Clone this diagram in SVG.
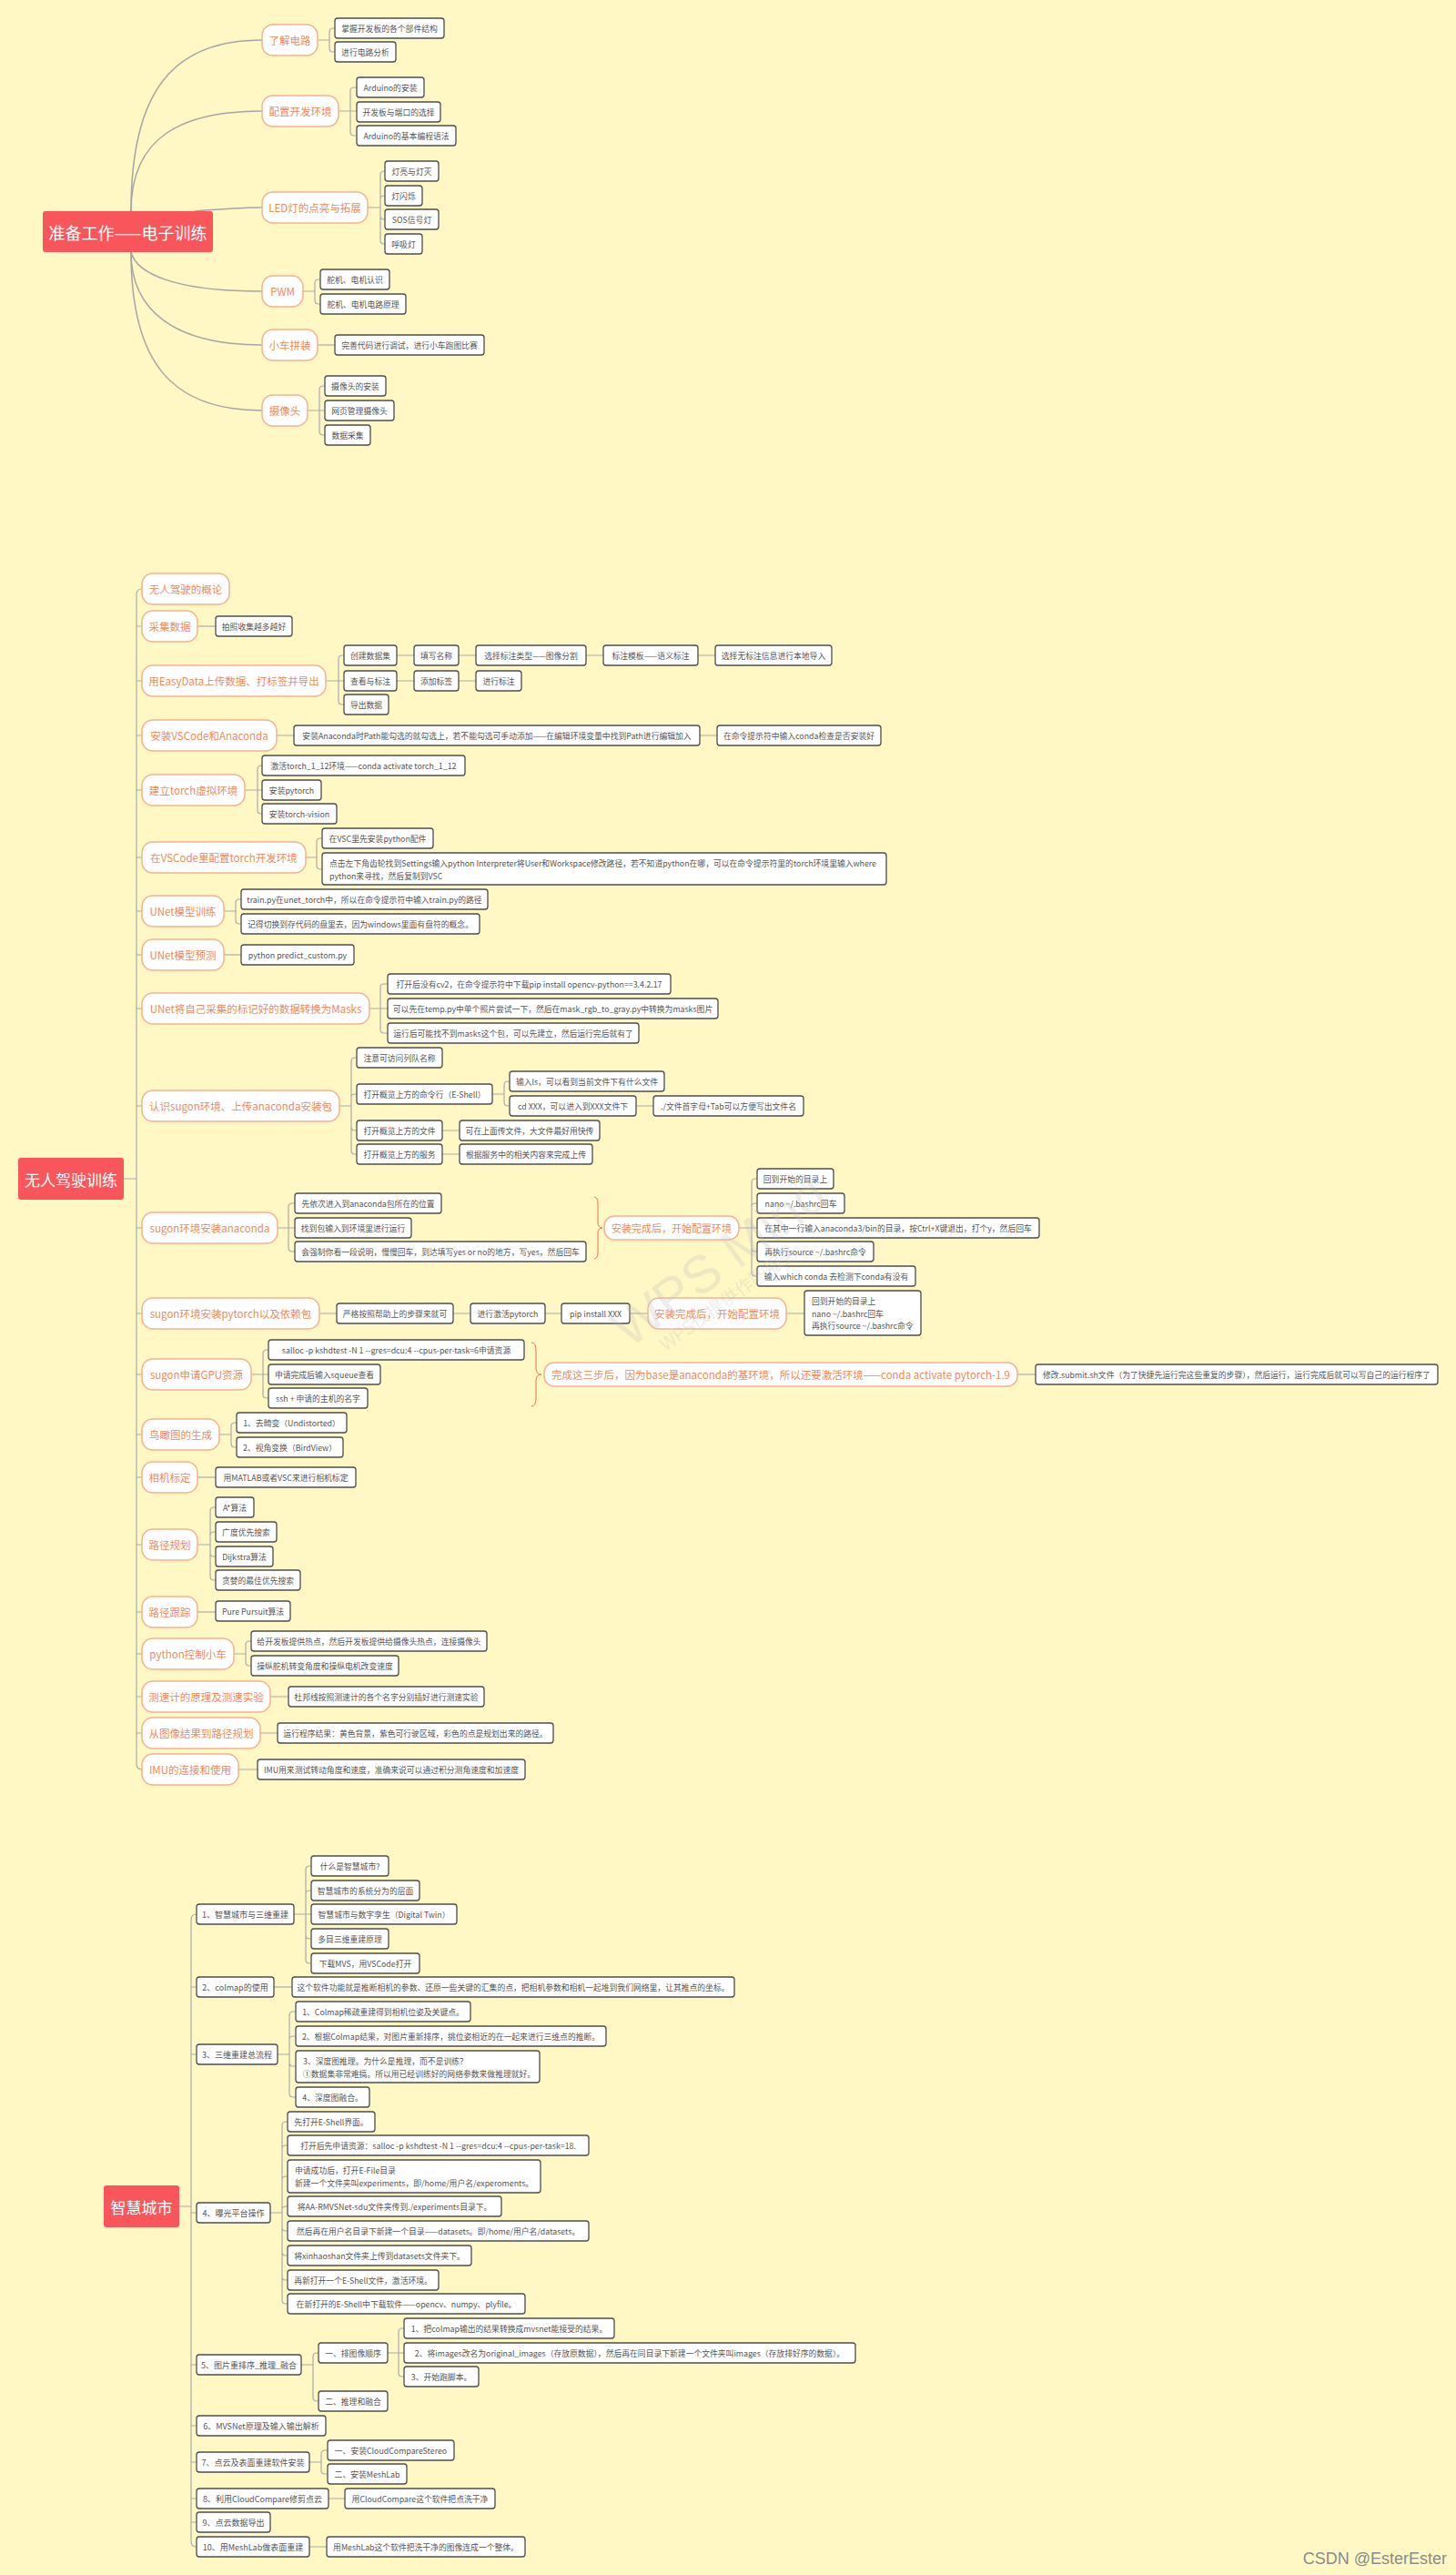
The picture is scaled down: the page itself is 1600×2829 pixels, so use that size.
<svg xmlns="http://www.w3.org/2000/svg" width="1600" height="2829" viewBox="0 0 1600 2829">
<style>
text{font-family:"Noto Sans CJK SC","Noto Sans",sans-serif;dominant-baseline:central}
.bg{fill:#fff8c4}
.root rect{fill:#f9565b}
.root text{fill:#fff;font-size:17px;text-anchor:middle}
.o rect{fill:#fff;stroke:#f4b28f;stroke-width:1.5}
.o text{fill:#ef8a5c;font-size:11.5px;text-anchor:middle}
.b rect{fill:#fff;stroke:#4d4d4d;stroke-width:1.3}
.b text{fill:#555;font-size:8.8px;text-anchor:middle}
.b text.l{text-anchor:start}
.c path{fill:none;stroke:#aaa;stroke-width:1.2}
.c path.cv{stroke-width:1.5;stroke:#a5a5a5}
.c path.br{stroke:#e8774f;stroke-width:1}
.wm{fill:#bbb;opacity:.25;font-family:"Liberation Sans",sans-serif}
</style>
<rect class="bg" x="0" y="0" width="1600" height="2829"/>

<g id="connectors" class="c">
<!-- section 1 -->
<path class="cv" d="M144,232 C144,100 190,44 288,44"/>
<path class="cv" d="M144,232 C144,150 200,122 288,122"/>
<path class="cv" d="M214,232 C240,230 260,228 288,228"/>
<path class="cv" d="M144,277 C150,300 190,320 288,320"/>
<path class="cv" d="M144,277 C144,340 190,379 288,379"/>
<path class="cv" d="M144,277 C144,400 190,451 288,451"/>
<path d="M349,44 H362 M362,44 V35 Q362,31 366,31 H368 M362,44 V53 Q362,57 366,57 H368"/>
<path d="M372,122 H392 M385,122 V100 Q385,96 389,96 H392 M385,122 V145 Q385,149 389,149 H392"/>
<path d="M404,228 H418 M418,228 V192 Q418,188 422,188 H423 M418,228 V219 Q418,215 422,215 H423 M418,228 V237 Q418,241 422,241 H423 M418,228 V264 Q418,268 422,268 H423"/>
<path d="M333,320 H346 M346,320 V311 Q346,307 350,307 H352 M346,320 V330 Q346,334 350,334 H352"/>
<path d="M349,379 H368"/>
<path d="M338,451 H357 M351,451 V428 Q351,424 355,424 H357 M351,451 V474 Q351,478 355,478 H357"/>
<!-- section 2 trunk -->
<path d="M136,1295 H150 M156,647 Q150,647 150,653 V1938 Q150,1944 156,1944 M150,688 H156 M150,748 H156 M150,808 H156 M150,868 H156 M150,942 H156 M150,1001 H156 M150,1049 H156 M150,1108 H156 M150,1215 H156 M150,1349 H156 M150,1443 H156 M150,1510 H156 M150,1576 H156 M150,1623 H156 M150,1697 H156 M150,1771 H156 M150,1817 H156 M150,1864 H156 M150,1904 H156"/>
<path d="M217,688 H237"/>
<path d="M358,748 H378 M372,748 V724 Q372,720 376,720 H378 M372,748 V770 Q372,774 376,774 H378"/>
<path d="M436,720 H455 M504,720 H523 M644,720 H663 M767,720 H786 M436,748 H455 M504,748 H523"/>
<path d="M304,808 H323 M769,808 H788"/>
<path d="M269,868 H288 M283,868 V845 Q283,841 287,841 H288 M283,868 V890 Q283,894 287,894 H288"/>
<path d="M336,942 H348 M348,942 V925 Q348,921 352,921 H354 M348,942 V951 Q348,955 352,955 H354"/>
<path d="M246,1001 H259 M259,1001 V992 Q259,988 263,988 H265 M259,1001 V1011 Q259,1015 263,1015 H265"/>
<path d="M246,1049 H265"/>
<path d="M406,1108 H426 M418,1108 V1085 Q418,1081 422,1081 H426 M418,1108 V1131 Q418,1135 422,1135 H426"/>
<path d="M373,1215 H386 M386,1215 V1166 Q386,1162 390,1162 H392 M386,1215 V1206 Q386,1202 390,1202 H392 M386,1215 V1238 Q386,1242 390,1242 H392 M386,1215 V1264 Q386,1268 390,1268 H392"/>
<path d="M541,1202 H554 M554,1202 V1192 Q554,1188 558,1188 H560 M554,1202 V1211 Q554,1215 558,1215 H560 M699,1215 H718 M486,1242 H505 M486,1268 H505"/>
<path d="M305,1349 H324 M317,1349 V1326 Q317,1322 321,1322 H324 M317,1349 V1371 Q317,1375 321,1375 H324"/>
<path class="br" d="M653,1315 Q657,1315 657,1323 V1343 Q657,1349 662,1349 Q657,1349 657,1355 V1375 Q657,1383 653,1383"/>
<path d="M812,1349 H832 M826,1349 V1299 Q826,1295 830,1295 H832 M826,1349 V1326 Q826,1322 830,1322 H832 M826,1349 V1371 Q826,1375 830,1375 H832 M826,1349 V1398 Q826,1402 830,1402 H832"/>
<path d="M351,1443 H370 M498,1443 H517 M599,1443 H617 M692,1443 H712 M864,1443 H884"/>
<path d="M276,1510 H295 M289,1510 V1487 Q289,1483 293,1483 H295 M289,1510 V1532 Q289,1536 293,1536 H295"/>
<path class="br" d="M584,1475 Q589,1475 589,1484 V1503 Q589,1510 595,1510 Q589,1510 589,1517 V1536 Q589,1545 584,1545"/>
<path d="M1118,1510 H1138"/>
<path d="M241,1576 H254 M254,1576 V1567 Q254,1563 258,1563 H260 M254,1576 V1586 Q254,1590 258,1590 H260"/>
<path d="M217,1623 H237"/>
<path d="M217,1697 H231 M231,1697 V1660 Q231,1656 235,1656 H237 M231,1697 V1687 Q231,1683 235,1683 H237 M231,1697 V1706 Q231,1710 235,1710 H237 M231,1697 V1732 Q231,1736 235,1736 H237"/>
<path d="M217,1771 H237"/>
<path d="M257,1817 H270 M270,1817 V1807 Q270,1803 274,1803 H276 M270,1817 V1826 Q270,1830 274,1830 H276"/>
<path d="M297,1864 H317 M286,1904 H305 M262,1944 H283"/>
<!-- section 3 -->
<path d="M197,2424 H210 M216,2103 Q210,2103 210,2109 V2792 Q210,2798 216,2798 M210,2183 H216 M210,2257 H216 M210,2431 H216 M210,2598 H216 M210,2665 H216 M210,2705 H216 M210,2745 H216 M210,2771 H216"/>
<path d="M323,2103 H342 M336,2103 V2054 Q336,2050 340,2050 H342 M336,2103 V2081 Q336,2077 340,2077 H342 M336,2103 V2126 Q336,2130 340,2130 H342 M336,2103 V2153 Q336,2157 340,2157 H342"/>
<path d="M301,2183 H321"/>
<path d="M305,2257 H318 M318,2257 V2214 Q318,2210 322,2210 H325 M318,2257 V2241 Q318,2237 322,2237 H325 M318,2257 V2266 Q318,2270 322,2270 H325 M318,2257 V2300 Q318,2304 322,2304 H325"/>
<path d="M297,2431 H310 M310,2431 V2335 Q310,2331 314,2331 H316 M310,2431 V2361 Q310,2357 314,2357 H316 M310,2431 V2395 Q310,2391 314,2391 H316 M310,2431 V2428 Q310,2424 314,2424 H316 M310,2431 V2447 Q310,2451 314,2451 H316 M310,2431 V2474 Q310,2478 314,2478 H316 M310,2431 V2501 Q310,2505 314,2505 H316 M310,2431 V2527 Q310,2531 314,2531 H316"/>
<path d="M331,2598 H344 M344,2598 V2589 Q344,2585 348,2585 H350 M344,2598 V2634 Q344,2638 348,2638 H350"/>
<path d="M426,2585 H444 M438,2585 V2562 Q438,2558 442,2558 H444 M438,2585 V2607 Q438,2611 442,2611 H444"/>
<path d="M340,2705 H353 M353,2705 V2696 Q353,2692 357,2692 H360 M353,2705 V2714 Q353,2718 357,2718 H360"/>
<path d="M361,2745 H379 M340,2798 H359"/>
</g>

<!-- ============ SECTION 1 ============ -->
<g id="s1-root" class="root"><rect x="47" y="232" width="187" height="45" rx="3"/><text x="140.5" y="254.5" style="font-size:18px">准备工作——电子训练</text></g>
<g id="s1-a" class="o"><rect x="288" y="27" width="61" height="34" rx="12"/><text x="318.5" y="44">了解电路</text></g>
<g id="s1-b" class="o"><rect x="288" y="105" width="84" height="34" rx="12"/><text x="330" y="122">配置开发环境</text></g>
<g id="s1-c" class="o"><rect x="288" y="211" width="116" height="34" rx="12"/><text x="346" y="228">LED灯的点亮与拓展</text></g>
<g id="s1-d" class="o"><rect x="288" y="303" width="45" height="34" rx="12"/><text x="310.5" y="320">PWM</text></g>
<g id="s1-e" class="o"><rect x="288" y="362" width="61" height="34" rx="12"/><text x="318.5" y="379">小车拼装</text></g>
<g id="s1-f" class="o"><rect x="288" y="434" width="50" height="34" rx="12"/><text x="313" y="451">摄像头</text></g>

<g id="s1-a1" class="b"><rect x="368" y="20" width="120" height="22" rx="3"/><text x="428" y="31">掌握开发板的各个部件结构</text></g>
<g id="s1-a2" class="b"><rect x="368" y="46" width="67" height="22" rx="3"/><text x="401.5" y="57">进行电路分析</text></g>
<g id="s1-b1" class="b"><rect x="392" y="85" width="74" height="22" rx="3"/><text x="429" y="96">Arduino的安装</text></g>
<g id="s1-b2" class="b"><rect x="392" y="112" width="92" height="22" rx="3"/><text x="438" y="123">开发板与端口的选择</text></g>
<g id="s1-b3" class="b"><rect x="392" y="138" width="109" height="22" rx="3"/><text x="446.5" y="149">Arduino的基本编程语法</text></g>
<g id="s1-c1" class="b"><rect x="423" y="177" width="59" height="22" rx="3"/><text x="452.5" y="188">灯亮与灯灭</text></g>
<g id="s1-c2" class="b"><rect x="423" y="204" width="41" height="22" rx="3"/><text x="443.5" y="215">灯闪烁</text></g>
<g id="s1-c3" class="b"><rect x="423" y="230" width="59" height="22" rx="3"/><text x="452.5" y="241">SOS信号灯</text></g>
<g id="s1-c4" class="b"><rect x="423" y="257" width="41" height="22" rx="3"/><text x="443.5" y="268">呼吸灯</text></g>
<g id="s1-d1" class="b"><rect x="352" y="296" width="76" height="22" rx="3"/><text x="390" y="307">舵机、电机认识</text></g>
<g id="s1-d2" class="b"><rect x="352" y="323" width="94" height="22" rx="3"/><text x="399" y="334">舵机、电机电路原理</text></g>
<g id="s1-e1" class="b"><rect x="368" y="368" width="164" height="22" rx="3"/><text x="450" y="379">完善代码进行调试，进行小车跑图比赛</text></g>
<g id="s1-f1" class="b"><rect x="357" y="413" width="67" height="22" rx="3"/><text x="390.5" y="424">摄像头的安装</text></g>
<g id="s1-f2" class="b"><rect x="357" y="440" width="76" height="22" rx="3"/><text x="395" y="451">网页管理摄像头</text></g>
<g id="s1-f3" class="b"><rect x="357" y="467" width="50" height="22" rx="3"/><text x="382" y="478">数据采集</text></g>

<!-- ============ SECTION 2 ============ -->
<g id="s2-root" class="root"><rect x="20" y="1272" width="116" height="46" rx="3"/><text x="78" y="1295">无人驾驶训练</text></g>
<g id="s2-01" class="o"><rect x="156" y="630" width="96" height="34" rx="12"/><text x="204" y="647">无人驾驶的概论</text></g>
<g id="s2-02" class="o"><rect x="156" y="671" width="61" height="34" rx="12"/><text x="186.5" y="688">采集数据</text></g>
<g id="s2-03" class="o"><rect x="156" y="731" width="202" height="34" rx="12"/><text x="257" y="748">用EasyData上传数据、打标签并导出</text></g>
<g id="s2-04" class="o"><rect x="156" y="791" width="148" height="34" rx="12"/><text x="230" y="808">安装VSCode和Anaconda</text></g>
<g id="s2-05" class="o"><rect x="156" y="851" width="113" height="34" rx="12"/><text x="212.5" y="868">建立torch虚拟环境</text></g>
<g id="s2-06" class="o"><rect x="156" y="925" width="180" height="34" rx="12"/><text x="246" y="942">在VSCode里配置torch开发环境</text></g>
<g id="s2-07" class="o"><rect x="156" y="984" width="90" height="34" rx="12"/><text x="201" y="1001">UNet模型训练</text></g>
<g id="s2-08" class="o"><rect x="156" y="1032" width="90" height="34" rx="12"/><text x="201" y="1049">UNet模型预测</text></g>
<g id="s2-09" class="o"><rect x="156" y="1091" width="250" height="34" rx="12"/><text x="281" y="1108">UNet将自己采集的标记好的数据转换为Masks</text></g>
<g id="s2-10" class="o"><rect x="156" y="1198" width="217" height="34" rx="12"/><text x="264.5" y="1215">认识sugon环境、上传anaconda安装包</text></g>
<g id="s2-11" class="o"><rect x="156" y="1332" width="149" height="34" rx="12"/><text x="230.5" y="1349">sugon环境安装anaconda</text></g>
<g id="s2-12" class="o"><rect x="156" y="1426" width="195" height="34" rx="12"/><text x="253.5" y="1443">sugon环境安装pytorch以及依赖包</text></g>
<g id="s2-13" class="o"><rect x="156" y="1493" width="120" height="34" rx="12"/><text x="216" y="1510">sugon申请GPU资源</text></g>
<g id="s2-14" class="o"><rect x="156" y="1559" width="85" height="34" rx="12"/><text x="198.5" y="1576">鸟瞰图的生成</text></g>
<g id="s2-15" class="o"><rect x="156" y="1606" width="61" height="34" rx="12"/><text x="186.5" y="1623">相机标定</text></g>
<g id="s2-16" class="o"><rect x="156" y="1680" width="61" height="34" rx="12"/><text x="186.5" y="1697">路径规划</text></g>
<g id="s2-17" class="o"><rect x="156" y="1754" width="61" height="34" rx="12"/><text x="186.5" y="1771">路径跟踪</text></g>
<g id="s2-18" class="o"><rect x="156" y="1800" width="101" height="34" rx="12"/><text x="206.5" y="1817">python控制小车</text></g>
<g id="s2-19" class="o"><rect x="156" y="1847" width="141" height="34" rx="12"/><text x="226.5" y="1864">测速计的原理及测速实验</text></g>
<g id="s2-20" class="o"><rect x="156" y="1887" width="130" height="34" rx="12"/><text x="221" y="1904">从图像结果到路径规划</text></g>
<g id="s2-21" class="o"><rect x="156" y="1927" width="106" height="34" rx="12"/><text x="209" y="1944">IMU的连接和使用</text></g>

<g id="s2-sum1" class="o"><rect x="664" y="1336" width="148" height="26" rx="11"/><text x="738" y="1349" style="font-size:11px">安装完成后，开始配置环境</text></g>
<g id="s2-sum2" class="o"><rect x="712" y="1426" width="152" height="34" rx="12"/><text x="788" y="1443">安装完成后，开始配置环境</text></g>
<g id="s2-sum3" class="o"><rect x="598" y="1497" width="520" height="26" rx="11"/><text x="858" y="1510">完成这三步后，因为base是anaconda的基环境，所以还要激活环境——conda activate pytorch-1.9</text></g>

<g id="s2-02a" class="b"><rect x="237" y="677" width="84" height="22" rx="3"/><text x="279" y="688">拍照收集越多越好</text></g>
<g id="s2-03a" class="b"><rect x="378" y="709" width="58" height="22" rx="3"/><text x="407" y="720">创建数据集</text></g>
<g id="s2-03a1" class="b"><rect x="455" y="709" width="49" height="22" rx="3"/><text x="479.5" y="720">填写名称</text></g>
<g id="s2-03a2" class="b"><rect x="523" y="709" width="121" height="22" rx="3"/><text x="583.5" y="720">选择标注类型——图像分割</text></g>
<g id="s2-03a3" class="b"><rect x="663" y="709" width="104" height="22" rx="3"/><text x="715" y="720">标注模板——语义标注</text></g>
<g id="s2-03a4" class="b"><rect x="786" y="709" width="128" height="22" rx="3"/><text x="850" y="720">选择无标注信息进行本地导入</text></g>
<g id="s2-03b" class="b"><rect x="378" y="737" width="58" height="22" rx="3"/><text x="407" y="748">查看与标注</text></g>
<g id="s2-03b1" class="b"><rect x="455" y="737" width="49" height="22" rx="3"/><text x="479.5" y="748">添加标签</text></g>
<g id="s2-03b2" class="b"><rect x="523" y="737" width="50" height="22" rx="3"/><text x="548" y="748">进行标注</text></g>
<g id="s2-03c" class="b"><rect x="378" y="763" width="49" height="22" rx="3"/><text x="402.5" y="774">导出数据</text></g>
<g id="s2-04a" class="b"><rect x="323" y="797" width="446" height="22" rx="3"/><text x="546" y="808">安装Anaconda时Path能勾选的就勾选上，若不能勾选可手动添加——在编辑环境变量中找到Path进行编辑加入</text></g>
<g id="s2-04a1" class="b"><rect x="788" y="797" width="180" height="22" rx="3"/><text x="878" y="808">在命令提示符中输入conda检查是否安装好</text></g>
<g id="s2-05a" class="b"><rect x="288" y="830" width="223" height="22" rx="3"/><text x="399.5" y="841">激活torch_1_12环境——conda activate torch_1_12</text></g>
<g id="s2-05b" class="b"><rect x="288" y="857" width="65" height="22" rx="3"/><text x="320.5" y="868">安装pytorch</text></g>
<g id="s2-05c" class="b"><rect x="288" y="883" width="82" height="22" rx="3"/><text x="329" y="894">安装torch-vision</text></g>
<g id="s2-06a" class="b"><rect x="354" y="910" width="122" height="22" rx="3"/><text x="415" y="921">在VSC里先安装python配件</text></g>
<g id="s2-06b" class="b"><rect x="354" y="937" width="620" height="35" rx="3"/><text class="l" x="362" y="948">点击左下角齿轮找到Settings输入python Interpreter将User和Workspace修改路径，若不知道python在哪，可以在命令提示符里的torch环境里输入where</text><text class="l" x="362" y="962">python来寻找，然后复制到VSC</text></g>
<g id="s2-07a" class="b"><rect x="265" y="977" width="271" height="22" rx="3"/><text x="400.5" y="988">train.py在unet_torch中，所以在命令提示符中输入train.py的路径</text></g>
<g id="s2-07b" class="b"><rect x="265" y="1004" width="262" height="22" rx="3"/><text x="396" y="1015">记得切换到存代码的盘里去，因为windows里面有盘符的概念。</text></g>
<g id="s2-08a" class="b"><rect x="265" y="1038" width="124" height="22" rx="3"/><text x="327" y="1049">python predict_custom.py</text></g>
<g id="s2-09a" class="b"><rect x="426" y="1070" width="311" height="22" rx="3"/><text x="581.5" y="1081">打开后没有cv2，在命令提示符中下载pip install opencv-python==3.4.2.17</text></g>
<g id="s2-09b" class="b"><rect x="426" y="1097" width="363" height="22" rx="3"/><text x="607.5" y="1108">可以先在temp.py中单个照片尝试一下，然后在mask_rgb_to_gray.py中转换为masks图片</text></g>
<g id="s2-09c" class="b"><rect x="426" y="1124" width="276" height="22" rx="3"/><text x="564" y="1135">运行后可能找不到masks这个包，可以先建立，然后运行完后就有了</text></g>
<g id="s2-10a" class="b"><rect x="392" y="1151" width="94" height="22" rx="3"/><text x="439" y="1162">注意可访问列队名称</text></g>
<g id="s2-10b" class="b"><rect x="392" y="1191" width="149" height="22" rx="3"/><text x="466.5" y="1202">打开概览上方的命令行（E-Shell）</text></g>
<g id="s2-10b1" class="b"><rect x="560" y="1177" width="170" height="22" rx="3"/><text x="645" y="1188">输入ls，可以看到当前文件下有什么文件</text></g>
<g id="s2-10b2" class="b"><rect x="560" y="1204" width="139" height="22" rx="3"/><text x="629.5" y="1215">cd XXX，可以进入到XXX文件下</text></g>
<g id="s2-10b3" class="b"><rect x="718" y="1204" width="165" height="22" rx="3"/><text x="800.5" y="1215">./文件首字母+Tab可以方便写出文件名</text></g>
<g id="s2-10c" class="b"><rect x="392" y="1231" width="94" height="22" rx="3"/><text x="439" y="1242">打开概览上方的文件</text></g>
<g id="s2-10c1" class="b"><rect x="505" y="1231" width="154" height="22" rx="3"/><text x="582" y="1242">可在上面传文件，大文件最好用快传</text></g>
<g id="s2-10d" class="b"><rect x="392" y="1257" width="94" height="22" rx="3"/><text x="439" y="1268">打开概览上方的服务</text></g>
<g id="s2-10d1" class="b"><rect x="505" y="1257" width="146" height="22" rx="3"/><text x="578" y="1268">根据服务中的相关内容来完成上传</text></g>
<g id="s2-11a" class="b"><rect x="324" y="1311" width="161" height="22" rx="3"/><text x="404.5" y="1322">先依次进入到anaconda包所在的位置</text></g>
<g id="s2-11b" class="b"><rect x="324" y="1338" width="128" height="22" rx="3"/><text x="388" y="1349">找到包输入到环境里进行运行</text></g>
<g id="s2-11c" class="b"><rect x="324" y="1364" width="320" height="22" rx="3"/><text x="484" y="1375">会强制你看一段说明，慢慢回车，到达填写yes or no的地方，写yes，然后回车</text></g>
<g id="s2-11d" class="b"><rect x="832" y="1284" width="84" height="22" rx="3"/><text x="874" y="1295">回到开始的目录上</text></g>
<g id="s2-11e" class="b"><rect x="832" y="1311" width="96" height="22" rx="3"/><text x="880" y="1322">nano ~/.bashrc回车</text></g>
<g id="s2-11f" class="b"><rect x="832" y="1338" width="310" height="22" rx="3"/><text x="987" y="1349">在其中一行输入anaconda3/bin的目录，按Ctrl+X键退出，打个y，然后回车</text></g>
<g id="s2-11g" class="b"><rect x="832" y="1364" width="128" height="22" rx="3"/><text x="896" y="1375">再执行source ~/.bashrc命令</text></g>
<g id="s2-11h" class="b"><rect x="832" y="1391" width="174" height="22" rx="3"/><text x="919" y="1402">输入which conda 去检测下conda有没有</text></g>
<g id="s2-12a" class="b"><rect x="370" y="1432" width="128" height="22" rx="3"/><text x="434" y="1443">严格按照帮助上的步骤来就可</text></g>
<g id="s2-12b" class="b"><rect x="517" y="1432" width="82" height="22" rx="3"/><text x="558" y="1443">进行激活pytorch</text></g>
<g id="s2-12c" class="b"><rect x="617" y="1432" width="75" height="22" rx="3"/><text x="654.5" y="1443">pip install XXX</text></g>
<g id="s2-12d" class="b"><rect x="884" y="1418" width="128" height="49" rx="3"/><text class="l" x="892" y="1429">回到开始的目录上</text><text class="l" x="892" y="1443">nano ~/.bashrc回车</text><text class="l" x="892" y="1456">再执行source ~/.bashrc命令</text></g>
<g id="s2-13a" class="b"><rect x="295" y="1472" width="281" height="22" rx="3"/><text x="435.5" y="1483">salloc -p kshdtest -N 1 --gres=dcu:4 --cpus-per-task=6申请资源</text></g>
<g id="s2-13b" class="b"><rect x="295" y="1499" width="123" height="22" rx="3"/><text x="356.5" y="1510">申请完成后输入squeue查看</text></g>
<g id="s2-13c" class="b"><rect x="295" y="1525" width="109" height="22" rx="3"/><text x="349.5" y="1536">ssh + 申请的主机的名字</text></g>
<g id="s2-13d" class="b"><rect x="1138" y="1499" width="442" height="22" rx="3"/><text x="1359" y="1510">修改.submit.sh文件（为了快捷先运行完这些重复的步骤），然后运行，运行完成后就可以写自己的运行程序了</text></g>
<g id="s2-14a" class="b"><rect x="260" y="1552" width="121" height="22" rx="3"/><text x="320.5" y="1563">1、去畸变（Undistorted）</text></g>
<g id="s2-14b" class="b"><rect x="260" y="1579" width="117" height="22" rx="3"/><text x="318.5" y="1590">2、视角变换（BirdView）</text></g>
<g id="s2-15a" class="b"><rect x="237" y="1612" width="154" height="22" rx="3"/><text x="314" y="1623">用MATLAB或者VSC来进行相机标定</text></g>
<g id="s2-16a" class="b"><rect x="237" y="1645" width="42" height="22" rx="3"/><text x="258" y="1656">A*算法</text></g>
<g id="s2-16b" class="b"><rect x="237" y="1672" width="67" height="22" rx="3"/><text x="270.5" y="1683">广度优先搜索</text></g>
<g id="s2-16c" class="b"><rect x="237" y="1699" width="63" height="22" rx="3"/><text x="268.5" y="1710">Dijkstra算法</text></g>
<g id="s2-16d" class="b"><rect x="237" y="1725" width="93" height="22" rx="3"/><text x="283.5" y="1736">贪婪的最佳优先搜索</text></g>
<g id="s2-17a" class="b"><rect x="237" y="1759" width="82" height="22" rx="3"/><text x="278" y="1770">Pure Pursuit算法</text></g>
<g id="s2-18a" class="b"><rect x="276" y="1792" width="259" height="22" rx="3"/><text x="405.5" y="1803">给开发板提供热点，然后开发板提供给摄像头热点，连接摄像头</text></g>
<g id="s2-18b" class="b"><rect x="276" y="1819" width="162" height="22" rx="3"/><text x="357" y="1830">操纵舵机转变角度和操纵电机改变速度</text></g>
<g id="s2-19a" class="b"><rect x="317" y="1853" width="215" height="22" rx="3"/><text x="424.5" y="1864">杜邦线按照测速计的各个名字分别插好进行测速实验</text></g>
<g id="s2-20a" class="b"><rect x="305" y="1893" width="303" height="22" rx="3"/><text x="456.5" y="1904">运行程序结果：黄色背景，紫色可行驶区域，彩色的点是规划出来的路径。</text></g>
<g id="s2-21a" class="b"><rect x="283" y="1933" width="294" height="22" rx="3"/><text x="430" y="1944">IMU用来测试转动角度和速度，准确来说可以通过积分测角速度和加速度</text></g>

<!-- ============ SECTION 3 ============ -->
<g id="s3-root" class="root"><rect x="114" y="2401" width="83" height="46" rx="3"/><text x="155.5" y="2424">智慧城市</text></g>
<g id="s3-01" class="b"><rect x="216" y="2092" width="107" height="22" rx="3"/><text x="269.5" y="2103" style="font-size:9px">1、智慧城市与三维重建</text></g>
<g id="s3-02" class="b"><rect x="216" y="2172" width="85" height="22" rx="3"/><text x="258.5" y="2183" style="font-size:9px">2、colmap的使用</text></g>
<g id="s3-03" class="b"><rect x="216" y="2246" width="89" height="22" rx="3"/><text x="260.5" y="2257" style="font-size:9px">3、三维重建总流程</text></g>
<g id="s3-04" class="b"><rect x="216" y="2420" width="81" height="22" rx="3"/><text x="256.5" y="2431" style="font-size:9px">4、曝光平台操作</text></g>
<g id="s3-05" class="b"><rect x="216" y="2587" width="115" height="22" rx="3"/><text x="273.5" y="2598" style="font-size:9px">5、图片重排序_推理_融合</text></g>
<g id="s3-06" class="b"><rect x="216" y="2654" width="142" height="22" rx="3"/><text x="287" y="2665" style="font-size:9px">6、MVSNet原理及输入输出解析</text></g>
<g id="s3-07" class="b"><rect x="216" y="2694" width="124" height="22" rx="3"/><text x="278" y="2705" style="font-size:9px">7、点云及表面重建软件安装</text></g>
<g id="s3-08" class="b"><rect x="216" y="2734" width="145" height="22" rx="3"/><text x="288.5" y="2745" style="font-size:9px">8、利用CloudCompare修剪点云</text></g>
<g id="s3-09" class="b"><rect x="216" y="2760" width="81" height="22" rx="3"/><text x="256.5" y="2771" style="font-size:9px">9、点云数据导出</text></g>
<g id="s3-10" class="b"><rect x="216" y="2787" width="124" height="22" rx="3"/><text x="278" y="2798" style="font-size:9px">10、用MeshLab做表面重建</text></g>

<g id="s3-01a" class="b"><rect x="342" y="2039" width="85" height="22" rx="3"/><text x="384.5" y="2050">什么是智慧城市?</text></g>
<g id="s3-01b" class="b"><rect x="342" y="2066" width="119" height="22" rx="3"/><text x="401.5" y="2077">智慧城市的系统分为的层面</text></g>
<g id="s3-01c" class="b"><rect x="342" y="2092" width="160" height="22" rx="3"/><text x="422" y="2103">智慧城市与数字孪生（Digital Twin）</text></g>
<g id="s3-01d" class="b"><rect x="342" y="2119" width="85" height="22" rx="3"/><text x="384.5" y="2130">多目三维重建原理</text></g>
<g id="s3-01e" class="b"><rect x="342" y="2146" width="119" height="22" rx="3"/><text x="401.5" y="2157">下载MVS，用VSCode打开</text></g>
<g id="s3-02a" class="b"><rect x="321" y="2172" width="486" height="22" rx="3"/><text x="564" y="2183">这个软件功能就是推断相机的参数、还原一些关键的汇集的点，把相机参数和相机一起堆到我们网络里，让其推点的坐标。</text></g>
<g id="s3-03a" class="b"><rect x="325" y="2199" width="192" height="22" rx="3"/><text x="421" y="2210">1、Colmap稀疏重建得到相机位姿及关键点。</text></g>
<g id="s3-03b" class="b"><rect x="325" y="2226" width="341" height="22" rx="3"/><text x="495.5" y="2237">2、根据Colmap结果，对图片重新排序，挑位姿相近的在一起来进行三维点的推断。</text></g>
<g id="s3-03c" class="b"><rect x="325" y="2253" width="268" height="35" rx="3"/><text class="l" x="333" y="2264">3、深度图推理。为什么是推理，而不是训练？</text><text class="l" x="333" y="2278">①数据集非常难搞。所以用已经训练好的网络参数来做推理就好。</text></g>
<g id="s3-03d" class="b"><rect x="325" y="2293" width="81" height="22" rx="3"/><text x="365.5" y="2304">4、深度图融合。</text></g>
<g id="s3-04a" class="b"><rect x="316" y="2320" width="96" height="22" rx="3"/><text x="364" y="2331">先打开E-Shell界面。</text></g>
<g id="s3-04b" class="b"><rect x="316" y="2346" width="331" height="22" rx="3"/><text x="481.5" y="2357">打开后先申请资源：salloc -p kshdtest -N 1 --gres=dcu:4 --cpus-per-task=18.</text></g>
<g id="s3-04c" class="b"><rect x="316" y="2373" width="278" height="36" rx="3"/><text class="l" x="324" y="2384">申请成功后，打开E-File目录</text><text class="l" x="324" y="2398">新建一个文件夹叫experiments，即/home/用户名/experoments。</text></g>
<g id="s3-04d" class="b"><rect x="316" y="2413" width="235" height="22" rx="3"/><text x="433.5" y="2424">将AA-RMVSNet-sdu文件夹传到./experiments目录下。</text></g>
<g id="s3-04e" class="b"><rect x="316" y="2440" width="331" height="22" rx="3"/><text x="481.5" y="2451">然后再在用户名目录下新建一个目录——datasets。即/home/用户名/datasets。</text></g>
<g id="s3-04f" class="b"><rect x="316" y="2467" width="202" height="22" rx="3"/><text x="417" y="2478">将xinhaoshan文件夹上传到datasets文件夹下。</text></g>
<g id="s3-04g" class="b"><rect x="316" y="2494" width="166" height="22" rx="3"/><text x="399" y="2505">再新打开一个E-Shell文件，激活环境。</text></g>
<g id="s3-04h" class="b"><rect x="316" y="2520" width="261" height="22" rx="3"/><text x="446.5" y="2531">在新打开的E-Shell中下载软件——opencv、numpy、plyfile。</text></g>
<g id="s3-05a" class="b"><rect x="350" y="2574" width="76" height="22" rx="3"/><text x="388" y="2585">一、排图像顺序</text></g>
<g id="s3-05b" class="b"><rect x="350" y="2627" width="76" height="22" rx="3"/><text x="388" y="2638">二、推理和融合</text></g>
<g id="s3-05a1" class="b"><rect x="444" y="2547" width="231" height="22" rx="3"/><text x="559.5" y="2558">1、把colmap输出的结果转换成mvsnet能接受的结果。</text></g>
<g id="s3-05a2" class="b"><rect x="444" y="2574" width="496" height="22" rx="3"/><text x="692" y="2585">2、将images改名为original_images（存放原数据），然后再在同目录下新建一个文件夹叫images（存放排好序的数据）。</text></g>
<g id="s3-05a3" class="b"><rect x="444" y="2600" width="82" height="22" rx="3"/><text x="485" y="2611">3、开始跑脚本。</text></g>
<g id="s3-07a" class="b"><rect x="360" y="2681" width="139" height="22" rx="3"/><text x="429.5" y="2692">一、安装CloudCompareStereo</text></g>
<g id="s3-07b" class="b"><rect x="360" y="2707" width="87" height="22" rx="3"/><text x="403.5" y="2718">二、安装MeshLab</text></g>
<g id="s3-08a" class="b"><rect x="379" y="2734" width="165" height="22" rx="3"/><text x="461.5" y="2745">用CloudCompare这个软件把点洗干净</text></g>
<g id="s3-10a" class="b"><rect x="359" y="2787" width="218" height="22" rx="3"/><text x="468" y="2798">用MeshLab这个软件把洗干净的图像连成一个整体。</text></g>

<!-- watermarks -->
<text class="wm" x="790" y="1385" transform="rotate(-36 790 1385)" style="font-size:58px;text-anchor:middle">WPS Mind</text>
<text class="wm" x="800" y="1425" transform="rotate(-36 800 1425)" style="font-size:20px;text-anchor:middle;font-family:'Noto Sans CJK SC',sans-serif">WPS仅提供作图服务</text>
<text x="1590" y="2811" style="font-family:'Liberation Sans',sans-serif;font-size:18px;fill:#8a8a8a;text-anchor:end">CSDN @EsterEster</text>
</svg>
